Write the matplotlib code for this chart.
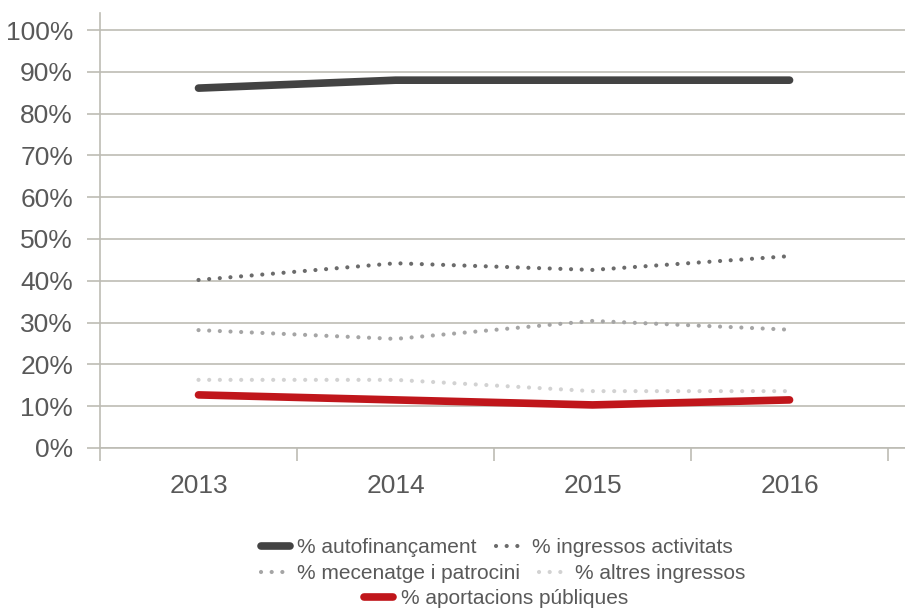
import numpy as np
import matplotlib
matplotlib.use("Agg")
import matplotlib.pyplot as plt
from matplotlib.ticker import FuncFormatter

plt.rcParams["font.family"] = ["Liberation Sans", "DejaVu Sans"]

# Anys i percentatges de cada font de finançament.
years = ["2013", "2014", "2015", "2016"]
autofinancament = [86.1, 88.0, 88.0, 88.0]
ingressos_activitats = [40.2, 44.2, 42.6, 45.9]
mecenatge = [28.2, 26.1, 30.4, 28.3]
altres_ingressos = [16.3, 16.3, 13.6, 13.6]
aportacions_publiques = [12.7, 11.5, 10.3, 11.5]

labels = ["% autofinançament", "% ingressos activitats",
          "% mecenatge i patrocini", "% altres ingressos",
          "% aportacions públiques"]

grid_c = "#bdbcb4"
text_c = "#595959"

fig = plt.figure(figsize=(9.05, 6.08), dpi=100)
ax = fig.add_axes([0.1105, 0.2632, 0.8895, 0.7154])

x = np.arange(len(years))
dot = (0, (0.01, 2.55))

h1, = ax.plot(x, autofinancament, color="#434343", lw=5.5,
              solid_capstyle="round", label=labels[0], zorder=5)
h2, = ax.plot(x, ingressos_activitats, color="#6b6b6b", lw=3,
              linestyle=dot, dash_capstyle="round", label=labels[1], zorder=4)
h3, = ax.plot(x, mecenatge, color="#a5a5a5", lw=3,
              linestyle=dot, dash_capstyle="round", label=labels[2], zorder=4)
h4, = ax.plot(x, altres_ingressos, color="#d2d2d2", lw=3,
              linestyle=dot, dash_capstyle="round", label=labels[3], zorder=4)
h5, = ax.plot(x, aportacions_publiques, color="#c0161b", lw=5.5,
              solid_capstyle="round", label=labels[4], zorder=5)

ax.set_ylim(0, 104.07)
ax.set_yticks(np.arange(0, 101, 10))
ax.yaxis.set_major_formatter(FuncFormatter(lambda v, p: f"{v:.0f}%"))
ax.set_xlim(-0.5, 3.586)
ax.set_xticks(np.arange(-0.5, 4, 1))
ax.set_xticklabels([])
ax.set_xticks(x, minor=True)
ax.set_xticklabels(years, minor=True)

ax.grid(axis="y", color=grid_c, lw=1.2)
ax.set_axisbelow(True)
for s in ["top", "right"]:
    ax.spines[s].set_visible(False)
for s in ["left", "bottom"]:
    ax.spines[s].set_color(grid_c)
    ax.spines[s].set_linewidth(1.2)

ax.tick_params(axis="y", which="major", length=9.4, width=1.2, color=grid_c,
               labelsize=19, labelcolor=text_c, pad=10)
ax.tick_params(axis="x", which="major", length=9.4, width=1.2, color=grid_c)
ax.tick_params(axis="x", which="minor", length=0, labelsize=19,
               labelcolor=text_c, pad=19)

legend_kw = dict(frameon=False, fontsize=15, handlelength=1.4,
                 handletextpad=0.35, columnspacing=0.9, labelcolor=text_c,
                 loc="center", borderpad=0, borderaxespad=0)
leg1 = fig.legend([h1, h2], labels[:2], ncol=2,
                  bbox_to_anchor=(0.549, 0.099), **legend_kw)
leg2 = fig.legend([h3, h4], labels[2:4], ncol=2,
                  bbox_to_anchor=(0.556, 0.056), **legend_kw)
leg3 = fig.legend([h5], labels[4:], ncol=1,
                  bbox_to_anchor=(0.548, 0.015), **legend_kw)

fig.savefig("out.png", dpi=100)
